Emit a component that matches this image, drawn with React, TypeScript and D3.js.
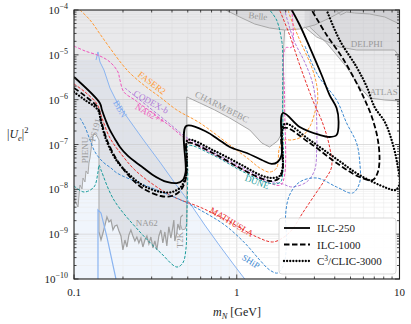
import React from "react";
import * as d3 from "d3";

type P = [number, number];

// ---------- Projected sensitivities (black) ----------
const ilc250: P[] = [
  [0.1, 3.2e-6], [0.144, 8.43e-7], [0.1485, 5.88e-7], [0.1572, 3.34e-7], [0.166, 2.11e-7],
  [0.1785, 1.33e-7], [0.1915, 8.8e-8], [0.2144, 5.55e-8], [0.243, 3.87e-8], [0.2727, 2.84e-8],
  [0.305, 2.09e-8], [0.3369, 1.7e-8], [0.372, 1.46e-8], [0.4285, 1.38e-8], [0.466, 1.61e-8],
  [0.485, 2.43e-8], [0.489, 2.59e-7], [0.655, 1.9e-7], [0.764, 1.33e-7], [0.906, 8.8e-8],
  [1.153, 6.46e-8], [1.425, 4.51e-8], [1.637, 3.68e-8], [1.782, 4.07e-8], [1.886, 5.83e-8],
  [1.92, 5.04e-7], [2.437, 2.46e-7], [3.23, 1.63e-7], [3.72, 1.47e-7], [4.107, 1.63e-7],
  [4.224, 3.17e-7], [4.107, 6.52e-7], [3.72, 1.27e-6], [3.323, 3.55e-6], [2.805, 1.49e-5],
  [2.437, 4.63e-5], [2.178, 1.0e-4],
];
const ilc1000: P[] = [
  [0.1, 1.82e-6], [0.1168, 1.21e-6], [0.1404, 6.52e-7], [0.1465, 3.52e-7], [0.1594, 1.26e-7],
  [0.1836, 4.51e-8], [0.2237, 1.79e-8], [0.2689, 1.02e-8], [0.3417, 7.1e-9], [0.3992, 7.1e-9],
  [0.4534, 9.66e-9], [0.4866, 1.79e-8], [0.4935, 4.51e-8], [0.497, 1.08e-7], [0.712, 6.46e-8],
  [1.043, 2.99e-8], [1.445, 1.7e-8], [1.661, 1.53e-8], [1.833, 1.79e-8], [1.913, 2.7e-8],
  [1.94, 2.34e-7], [2.805, 1.08e-7], [4.107, 3.87e-8], [5.683, 1.88e-8], [6.829, 1.61e-8],
  [7.328, 2.31e-8], [7.538, 4.51e-8], [7.328, 1.4e-7], [6.733, 4.32e-7], [6.127, 9.83e-7],
  [5.524, 2.13e-6], [4.47, 8.49e-6], [3.567, 2.77e-5], [2.886, 1.0e-4],
];
const clic3000: P[] = [
  [0.1, 1.48e-6], [0.1168, 9.83e-7], [0.1404, 5.88e-7], [0.1465, 3.17e-7], [0.1594, 1.14e-7],
  [0.1836, 4.29e-8], [0.2237, 1.98e-8], [0.2689, 1.19e-8], [0.3417, 8.72e-9], [0.3992, 8.72e-9],
  [0.4534, 1.13e-8], [0.4866, 1.98e-8], [0.4935, 4.99e-8], [0.5005, 1.26e-7], [0.712, 7.54e-8],
  [1.043, 3.68e-8], [1.445, 1.98e-8], [1.661, 1.79e-8], [1.833, 1.98e-8], [1.913, 2.99e-8],
  [1.968, 2.87e-7], [2.805, 1.26e-7], [4.107, 4.74e-8], [5.683, 2.09e-8], [8.36, 1.07e-8],
  [9.45, 9.66e-9], [10.0, 1.32e-8], [9.72, 3.49e-8], [9.06, 1.08e-7], [8.127, 3.17e-7],
  [7.025, 6.87e-7], [6.302, 1.92e-6], [5.447, 5.35e-6], [4.284, 2.14e-5], [3.567, 1.0e-4],
];

// ---------- Other projections (coloured, dashed) ----------
const mathusla: P[] = [
  [0.1, 2.24e-6], [0.1168, 1.48e-6], [0.1384, 8.01e-7], [0.1485, 3.9e-7], [0.1663, 1.4e-7],
  [0.197, 5.83e-8], [0.2366, 2.7e-8], [0.3096, 1.25e-8], [0.4107, 6.74e-9], [0.6105, 3.84e-9],
  [0.906, 1.87e-9], [1.33, 8.64e-10], [1.661, 6.69e-10], [1.913, 8.21e-10], [2.178, 1.24e-9],
  [2.54, 2.97e-9], [3.012, 7.47e-9], [3.467, 1.61e-8], [3.826, 3.15e-8], [3.72, 8.8e-8],
  [3.37, 3.02e-7], [2.927, 9.83e-7], [2.437, 5.93e-6], [2.112, 2.77e-5], [1.833, 1.0e-4],
];
const faser2: P[] = [
  [0.1088, 1.0e-4], [0.1254, 5.98e-5], [0.1444, 2.92e-5], [0.1663, 1.42e-5], [0.197, 6.24e-6],
  [0.2205, 3.93e-6], [0.2727, 2.02e-6], [0.3369, 1.15e-6], [0.4285, 5.88e-7], [0.5936, 3.02e-7],
  [0.906, 9.75e-8], [1.202, 4.51e-8], [1.385, 2.99e-8], [1.592, 2.43e-8], [1.757, 2.99e-8],
  [1.833, 8.8e-8], [1.968, 1.26e-7], [2.178, 1.26e-7], [2.49, 1.47e-7], [2.805, 2.46e-7],
  [3.012, 5.04e-7], [3.142, 9.83e-7], [3.098, 2.13e-6], [2.886, 5.35e-6], [2.437, 2.14e-5],
  [2.112, 7.74e-5], [2.07, 1.0e-4],
];
const codexb: P[] = [
  [0.2055, 1.82e-6], [0.2926, 6.52e-7], [0.388, 2.87e-7], [0.4866, 1.47e-7], [0.712, 6.8e-8],
  [1.043, 3.32e-8], [1.592, 1.53e-8], [1.913, 1.32e-8], [2.178, 1.13e-8], [2.688, 1.46e-8],
  [3.012, 2.7e-8], [3.098, 7.54e-8], [3.098, 3.52e-7], [3.054, 9.83e-7], [2.886, 2.75e-6],
  [2.613, 6.92e-6], [2.24, 2.14e-5], [1.968, 1.0e-4],
];
const na62pp: P[] = [
  [0.1, 1.57e-5], [0.1168, 1.22e-5], [0.1444, 9.41e-6], [0.1663, 6.92e-6], [0.1862, 4.14e-6],
  [0.1915, 2.75e-6], [0.2026, 1.48e-6], [0.2366, 9.83e-7], [0.2926, 5.58e-7], [0.388, 2.59e-7],
  [0.4866, 1.33e-7], [0.712, 6.13e-8], [1.043, 2.99e-8], [1.592, 1.38e-8], [1.86, 1.25e-8],
  [1.968, 2.09e-8], [1.968, 9.83e-7], [1.996, 1.42e-5], [2.178, 1.49e-5], [2.178, 1.0e-4],
];
const dune: P[] = [
  [0.1, 1.19e-8], [0.1152, 8.72e-9], [0.1327, 1.13e-8], [0.1404, 2.43e-8], [0.1424, 3.49e-8],
  [0.1465, 2.7e-8], [0.176, 5.78e-9], [0.2577, 1.06e-9], [0.3417, 3.8e-10], [0.4285, 1.85e-10],
  [0.466, 2.27e-10], [0.4866, 4.44e-10], [0.4935, 2.42e-9], [0.5005, 2.7e-8], [0.5005, 9.26e-8],
  [0.712, 5.83e-8], [1.043, 2.7e-8], [1.445, 1.53e-8], [1.71, 1.32e-8], [1.86, 1.46e-8],
  [1.913, 2.09e-8], [1.913, 9.83e-7], [1.913, 1.28e-5], [1.886, 2.14e-5], [1.757, 5.98e-5],
  [1.592, 1.0e-4],
];
const ship: P[] = [
  [0.1088, 3.9e-7], [0.1168, 2.46e-7], [0.1254, 1.26e-7], [0.1346, 6.8e-8], [0.1507, 4.07e-8],
  [0.1687, 2.99e-8], [0.1836, 2.31e-8], [0.2434, 1.46e-8], [0.323, 9.66e-9], [0.4534, 5.78e-9],
  [0.627, 3.12e-9], [0.844, 1.6e-9], [1.12, 6.36e-10], [1.385, 2.65e-10], [1.592, 1.59e-10],
  [1.782, 1.36e-10], [1.94, 2.05e-10], [2.024, 7.41e-10], [1.996, 2.68e-9], [2.112, 7.47e-9],
  [2.437, 1.46e-8], [3.098, 1.79e-8], [4.107, 1.13e-8], [5.147, 8.28e-9], [5.683, 1.38e-8],
  [5.683, 4.51e-8], [5.447, 1.08e-7], [4.73, 3.02e-7], [4.107, 9.83e-7], [3.142, 3.55e-6],
  [2.613, 1.65e-5],
];

// ---------- BBN ----------
const bbnUpper: P[] = [
  [0.1365, 7.67e-6], [0.1404, 1.16e-5], [0.1444, 6.92e-6], [0.1528, 4.59e-6], [0.1663, 1.82e-6],
  [0.1836, 8.87e-7], [0.2055, 4.79e-7], [0.2366, 2.34e-7], [0.2727, 1.14e-7], [0.3369, 4.07e-8],
  [0.4165, 1.38e-8], [0.5149, 4.95e-9], [0.636, 1.6e-9], [0.787, 5.46e-10], [0.972, 1.95e-10],
  [1.12, 1.0e-10],
];
const bbnLower: P[] = [
  [0.1404, 1.0e-10], [0.1404, 3.46e-9], [0.1465, 2.97e-9], [0.1594, 8.64e-10], [0.181, 1.0e-10],
];

// ---------- Existing limits (grey) ----------
const na62: P[] = [
  [0.1424, 1.12e-9], [0.1465, 7.41e-10], [0.1507, 1.06e-9], [0.155, 1.6e-9], [0.1594, 2.42e-9],
  [0.164, 1.87e-9], [0.1687, 2.07e-9], [0.1735, 1.24e-9], [0.1785, 1.52e-9], [0.1836, 1.6e-9],
  [0.1889, 1.18e-9], [0.1943, 9.1e-10], [0.1998, 4.44e-10], [0.2055, 7.41e-10], [0.2114, 5.18e-10],
  [0.2175, 9.58e-10], [0.2237, 1.24e-9], [0.2301, 9.1e-10], [0.2366, 7.04e-10], [0.2434, 8.64e-10],
  [0.2504, 6.36e-10], [0.2577, 8.21e-10], [0.265, 5.18e-10], [0.2727, 7.41e-10], [0.2805, 9.1e-10],
  [0.2885, 6.04e-10], [0.2968, 8.64e-10], [0.3053, 4.92e-10], [0.3141, 7.04e-10], [0.323, 4.44e-10],
  [0.3323, 9.1e-10], [0.3417, 1.24e-9], [0.3515, 6.36e-10], [0.3616, 1.12e-9], [0.3719, 5.46e-10],
  [0.3826, 1.45e-9], [0.3936, 8.21e-10], [0.3992, 1.06e-9], [0.4107, 2.07e-9], [0.4165, 7.04e-10],
  [0.4285, 1.06e-9], [0.4346, 1.69e-9], [0.447, 1.24e-9], [0.4534, 2.42e-9], [0.4664, 2.68e-9],
];
const pienuPs191: P[] = [
  [0.1, 6.4e-9], [0.1029, 4.95e-9], [0.1058, 4.04e-9], [0.1073, 7.1e-9], [0.1088, 1.25e-8],
  [0.112, 1.02e-8], [0.1136, 1.79e-8], [0.1168, 1.46e-8], [0.1185, 2.57e-8], [0.1219, 2.2e-8],
  [0.1236, 3.87e-8], [0.1254, 4.99e-8], [0.1272, 7.54e-8], [0.129, 1.14e-7], [0.1308, 1.55e-7],
  [0.1346, 1.72e-7], [0.1384, 1.55e-7], [0.1424, 1.26e-7], [0.1424, 1.12e-9],
];
const t2k: P[] = [
  [0.4935, 1.15e-6], [0.4935, 1.7e-9], [0.482, 1.3e-9], [0.462, 1.25e-9], [0.452, 1.6e-9],
];
const charm: P[] = [
  [0.4935, 1.15e-6], [0.5936, 8.43e-7], [0.733, 5.88e-7], [0.906, 3.9e-7], [1.202, 2.11e-7],
  [1.425, 1.08e-7], [1.592, 8.8e-8], [1.782, 1.2e-7], [1.913, 1.9e-7], [1.93, 1.64e-6],
  [1.94, 1.28e-5], [1.968, 3.58e-5],
];
const belle: P[] = [
  [0.856, 1.0e-4], [1.043, 6.98e-5], [1.29, 4.87e-5], [1.592, 3.97e-5], [1.968, 3.58e-5],
  [2.437, 3.77e-5], [3.012, 4.63e-5], [3.72, 6.63e-5], [4.598, 1.0e-4],
];
const delphi: P[] = [
  [2.613, 4.18e-5], [3.098, 2.5e-5], [4.284, 1.49e-5], [5.447, 1.28e-5], [9.32, 1.28e-5],
  [9.72, 1.04e-5], [10, 9.41e-6],
];
const atlas: P[] = [
  [2.805, 4.18e-5], [3.567, 1.84e-5], [4.73, 5.35e-6], [5.683, 1.92e-6], [6.545, 1.09e-6],
  [8.127, 9.83e-7], [10, 9.34e-7],
];
const topRight: P[] = [
  [4.05, 1.0e-4], [4.35, 7.74e-5], [4.73, 9.03e-5], [5.295, 8.57e-5], [6.545, 8.15e-5],
  [8.127, 6.98e-5], [10, 4.87e-5],
];

// ---------- Labels ----------
const curveLabels = [
  { text: "FASER2", m: 0.301, u: 2.35e-6, angle: 37, color: "#ff9933" },
  { text: "CODEX-b", m: 0.297, u: 8.87e-7, angle: 29, color: "#b07ad8" },
  { text: "NA62++", m: 0.2926, u: 4.79e-7, angle: 30, color: "#ee55bb" },
  { text: "BBN", m: 0.1915, u: 6.2e-7, angle: 60, color: "#7fa9ee" },
  { text: "CHARM/BEBC", m: 0.81, u: 6.9e-7, angle: 27, color: "#999999" },
  { text: "DUNE", m: 1.33, u: 1.46e-8, angle: 20, color: "#179a9a" },
  { text: "MATHUSLA", m: 0.93, u: 1.87e-9, angle: 31, color: "#e8302e" },
  { text: "SHiP", m: 1.22, u: 2.45e-10, angle: 33, color: "#3a88d0" },
  { text: "NA62", m: 0.28, u: 1.78e-9, angle: 0, color: "#999999" },
  { text: "T2K", m: 0.447, u: 7.41e-10, angle: -90, color: "#999999" },
  { text: "PIENU", m: 0.117, u: 7.54e-8, angle: -90, color: "#999999" },
  { text: "PS191", m: 0.135, u: 2.11e-7, angle: -75, color: "#999999" },
  { text: "Belle", m: 1.35, u: 7.3e-5, angle: 6, color: "#999999" },
  { text: "DELPHI", m: 6.3, u: 1.74e-5, angle: 0, color: "#999999" },
  { text: "ATLAS", m: 8.0, u: 1.5e-6, angle: 0, color: "#999999" },
];

const xTickLabels = [
  { v: 0.1, t: "0.1" },
  { v: 1, t: "1" },
  { v: 10, t: "10" },
];
const yTickExps = [-4, -5, -6, -7, -8, -9, -10];

const legendItems = [
  { key: "ILC-250", dash: "", cap: "butt", w: 1.8 },
  { key: "ILC-1000", dash: "5.5,2.5", cap: "butt", w: 1.8 },
  { key: "C3/CLIC-3000", dash: "0.01,3.1", cap: "round", w: 2.3 },
];

const SERIF = "'Liberation Serif', 'DejaVu Serif', serif";

export default function App() {
  const W = 411;
  const H = 324;
  const left = 74, right = 399.5, top = 10, bottom = 279;
  const x = d3.scaleLog().domain([0.1, 10]).range([left, right]);
  const y = d3.scaleLog().domain([1e-10, 1e-4]).range([bottom, top]);

  const lin = d3.line<P>().x((d) => x(d[0])).y((d) => y(d[1]));
  const smooth = d3
    .line<P>()
    .x((d) => x(d[0]))
    .y((d) => y(d[1]))
    .curve(d3.curveCatmullRom.alpha(0.5));

  const xt = x.ticks();
  const yt = y.ticks();
  const isMajor = (v: number) => Math.abs(Math.log10(v) - Math.round(Math.log10(v))) < 1e-6;

  const polyLeft: P[] = [
    [0.1, 1e-4],
    [1.968, 1e-4],
    ...charm.slice().reverse(),
    ...t2k.slice(1),
    ...na62.slice().reverse(),
    ...pienuPs191.slice().reverse(),
  ];
  const polyBbn: P[] = [[0.1, 7.67e-6], ...bbnUpper, [0.1, 1e-10]];
  const polyBelle: P[] = [...belle];
  const polyAtlas: P[] = [...atlas, [10, 1e-4], [2.805, 1e-4]];
  const polyDelphi: P[] = [...delphi, [10, 1e-4], [2.613, 1e-4]];
  const polyTop: P[] = [...topRight, [10, 1e-4]];

  const grayFill = "#c2c3c8";
  const grayOp = 0.36;
  const grayLine = "#a8a8a8";

  const colored = [
    { d: faser2, c: "#ff9933" },
    { d: codexb, c: "#b07ad8" },
    { d: na62pp, c: "#ee55bb" },
    { d: dune, c: "#179a9a" },
    { d: mathusla, c: "#e8302e" },
    { d: ship, c: "#3a88d0" },
  ];

  const lx = 279, ly = 218, lw = 117, lh = 56;

  return (
    <svg
      width={W}
      height={H}
      style={{ position: "absolute", left: 0, top: 0, background: "#fff" }}
      fontFamily={SERIF}
    >
      <defs>
        <clipPath id="plot">
          <rect x={left} y={top} width={right - left} height={bottom - top} />
        </clipPath>
      </defs>
      <rect x={0} y={0} width={W} height={H} fill="#fff" />
      <g clipPath="url(#plot)">
        <path d={lin(polyBbn) + "Z"} fill="#f0f5fc" />
        {xt.map((v, i) => (
          <line
            key={"gx" + i}
            x1={x(v)}
            x2={x(v)}
            y1={top}
            y2={bottom}
            stroke={isMajor(v) ? "#d4d4d4" : "#ebebeb"}
            strokeWidth={isMajor(v) ? 0.8 : 0.6}
          />
        ))}
        {yt.map((v, i) => (
          <line
            key={"gy" + i}
            y1={y(v)}
            y2={y(v)}
            x1={left}
            x2={right}
            stroke={isMajor(v) ? "#d4d4d4" : "#ebebeb"}
            strokeWidth={isMajor(v) ? 0.8 : 0.6}
          />
        ))}
        <path d={lin(polyLeft) + "Z"} fill={grayFill} fillOpacity={grayOp} />
        <path d={lin(polyBelle) + "Z"} fill={grayFill} fillOpacity={grayOp} />
        <path d={lin(polyAtlas) + "Z"} fill={grayFill} fillOpacity={grayOp} />
        <path d={lin(polyDelphi) + "Z"} fill={grayFill} fillOpacity={grayOp} />
        <path d={lin(polyTop) + "Z"} fill={grayFill} fillOpacity={grayOp} />
        <path d={lin(charm) || ""} fill="none" stroke={grayLine} strokeWidth={1} />
        <path d={lin(t2k) || ""} fill="none" stroke={grayLine} strokeWidth={1} />
        <path d={lin(pienuPs191) || ""} fill="none" stroke={grayLine} strokeWidth={1} />
        <path d={lin(na62) || ""} fill="none" stroke="#a0a0a0" strokeWidth={1.2} />
        <path d={lin(belle) || ""} fill="none" stroke={grayLine} strokeWidth={1} />
        <path d={lin(atlas) || ""} fill="none" stroke={grayLine} strokeWidth={1} />
        <path d={lin(delphi) || ""} fill="none" stroke={grayLine} strokeWidth={1} />
        <path d={lin(topRight) || ""} fill="none" stroke={grayLine} strokeWidth={1} />
        <path d={lin(bbnUpper) || ""} fill="none" stroke="#8ab4f0" strokeWidth={1} />
        <path d={lin(bbnLower) || ""} fill="none" stroke="#8ab4f0" strokeWidth={1.2} />
        {colored.map((c, i) => (
          <path
            key={"c" + i}
            d={smooth(c.d) || ""}
            fill="none"
            stroke={c.c}
            strokeWidth={1}
            strokeDasharray="3,1.6"
          />
        ))}
        {curveLabels.map((l, i) => (
          <text
            key={"l" + i}
            x={x(l.m)}
            y={y(l.u)}
            transform={`rotate(${l.angle},${x(l.m)},${y(l.u)})`}
            fill={l.color}
            fontSize={9}
            textAnchor="middle"
            dominantBaseline="central"
          >
            {l.text}
          </text>
        ))}
        <path d={smooth(ilc250) || ""} fill="none" stroke="#000" strokeWidth={1.8} />
        <path
          d={smooth(ilc1000) || ""}
          fill="none"
          stroke="#000"
          strokeWidth={1.8}
          strokeDasharray="5.5,2.5"
        />
        <path
          d={smooth(clic3000) || ""}
          fill="none"
          stroke="#000"
          strokeWidth={2.3}
          strokeDasharray="0.01,3.1"
          strokeLinecap="round"
        />
      </g>

      {xt.map((v, i) => {
        const L = isMajor(v) ? 4.5 : 2.5;
        return (
          <g key={"tx" + i} stroke="#222" strokeWidth={0.8}>
            <line x1={x(v)} x2={x(v)} y1={bottom} y2={bottom - L} />
            <line x1={x(v)} x2={x(v)} y1={top} y2={top + L} />
          </g>
        );
      })}
      {yt.map((v, i) => {
        const L = isMajor(v) ? 4.5 : 2.5;
        return (
          <g key={"ty" + i} stroke="#222" strokeWidth={0.8}>
            <line y1={y(v)} y2={y(v)} x1={left} x2={left + L} />
            <line y1={y(v)} y2={y(v)} x1={right} x2={right - L} />
          </g>
        );
      })}
      <rect
        x={left}
        y={top}
        width={right - left}
        height={bottom - top}
        fill="none"
        stroke="#222"
        strokeWidth={1.1}
      />

      {xTickLabels.map((t, i) => (
        <text key={"xl" + i} x={x(t.v)} y={296} fontSize={11} textAnchor="middle" fill="#222">
          {t.t}
        </text>
      ))}
      {yTickExps.map((e, i) => (
        <text key={"yl" + i} x={68} y={y(Math.pow(10, e)) + 4} fontSize={11} textAnchor="end" fill="#222">
          10
          <tspan dy={-5} fontSize={8}>
            {"\u2212" + Math.abs(e)}
          </tspan>
        </text>
      ))}

      <text x={237} y={316} fontSize={12} textAnchor="middle" fill="#222">
        <tspan fontStyle="italic">m</tspan>
        <tspan dy={2.5} fontSize={8.5} fontStyle="italic">
          N
        </tspan>
        <tspan dy={-2.5}>{" [GeV]"}</tspan>
      </text>
      <text x={7} y={138} fontSize={12} fill="#222">
        |<tspan fontStyle="italic">U</tspan>
        <tspan dy={2.5} fontSize={8.5} fontStyle="italic">
          e
        </tspan>
        <tspan dy={-2.5}>|</tspan>
        <tspan dy={-5} fontSize={8.5}>
          2
        </tspan>
      </text>

      <rect
        x={lx}
        y={ly}
        width={lw}
        height={lh}
        rx={3}
        fill="#fff"
        fillOpacity={0.9}
        stroke="#cfcfcf"
        strokeWidth={0.8}
      />
      {legendItems.map((it, i) => {
        const yy = ly + 10 + i * 16.5;
        return (
          <g key={"lg" + i}>
            <line
              x1={lx + 5}
              x2={lx + 31}
              y1={yy}
              y2={yy}
              stroke="#000"
              strokeWidth={it.w}
              strokeDasharray={it.dash || undefined}
              strokeLinecap={it.cap as any}
            />
            <text x={lx + 38} y={yy + 4} fontSize={11} fill="#222">
              {i === 2 ? (
                <>
                  C<tspan dy={-4} fontSize={7.5}>3</tspan>
                  <tspan dy={4}>/CLIC-3000</tspan>
                </>
              ) : (
                it.key
              )}
            </text>
          </g>
        );
      })}
    </svg>
  );
}
